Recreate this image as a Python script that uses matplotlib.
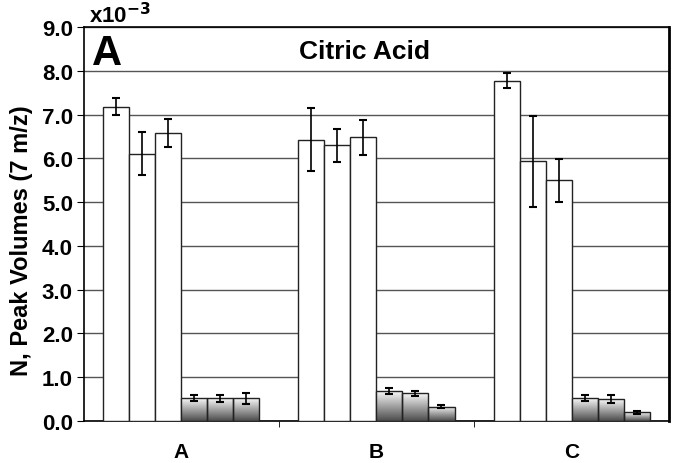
import numpy as np
import matplotlib.pyplot as plt

plt.rcParams['font.family'] = ['Liberation Sans', 'DejaVu Sans']
plt.rcParams['font.weight'] = 'bold'

groups = ['A', 'B', 'C']
# three white bars then three shaded bars per group (x10^-3)
white_vals = [[7.18, 6.11, 6.59], [6.43, 6.30, 6.48], [7.77, 5.93, 5.50]]
white_err = [[0.20, 0.50, 0.32], [0.72, 0.38, 0.40], [0.17, 1.04, 0.49]]
gray_vals = [[0.52, 0.52, 0.52], [0.68, 0.63, 0.33], [0.52, 0.50, 0.20]]
gray_err = [[0.07, 0.08, 0.13], [0.07, 0.06, 0.04], [0.07, 0.09, 0.03]]

fig = plt.figure(figsize=(6.74, 4.64), dpi=100)
ax = fig.add_axes([0.1246, 0.0905, 0.868, 0.849])

w = 1 / 7.5
x = np.arange(len(groups))
grad = np.linspace(0.97, 0.3, 64).reshape(-1, 1)

for i in range(3):
    xi = x - 2.5 * w + i * w
    ax.bar(xi, [v[i] for v in white_vals], w, color='white', edgecolor='#222222',
           linewidth=1.0, zorder=3)
    ax.errorbar(xi, [v[i] for v in white_vals], yerr=[e[i] for e in white_err],
                fmt='none', ecolor='black', elinewidth=1.2, capsize=3, capthick=1.5, zorder=4)

for i in range(3):
    xi = x + 0.5 * w + i * w
    bars = ax.bar(xi, [v[i] for v in gray_vals], w, color='none', edgecolor='#222222',
                  linewidth=1.0, zorder=3.5)
    for b in bars:
        ax.imshow(grad, cmap='gray', vmin=0, vmax=1, aspect='auto', zorder=3,
                  extent=[b.get_x(), b.get_x() + b.get_width(), 0, b.get_height()])
    ax.errorbar(xi, [v[i] for v in gray_vals], yerr=[e[i] for e in gray_err],
                fmt='none', ecolor='black', elinewidth=1.2, capsize=3, capthick=1.5, zorder=4)

ax.set_xlim(-0.5, 2.5)
ax.set_ylim(0, 9.0)
ax.set_yticks(np.arange(0, 9.5, 1.0))
ax.set_yticklabels(['%.1f' % v for v in np.arange(0, 9.5, 1.0)], fontsize=16, fontweight='bold')
ax.yaxis.grid(True, color='#555555', linewidth=1.0, zorder=0)
ax.set_axisbelow(True)
ax.set_xticks(x)
ax.set_xticklabels(groups, fontsize=15, fontweight='bold')
ax.tick_params(axis='x', length=0, pad=15)
ax.set_xticks([0.5, 1.5], minor=True)
ax.tick_params(axis='x', which='minor', length=4, direction='out')
ax.tick_params(axis='y', length=5, direction='out', pad=3)

for s in ['left', 'bottom', 'top']:
    ax.spines[s].set_linewidth(1.2)
ax.spines['right'].set_linewidth(2.0)

ax.set_ylabel('N, Peak Volumes (7 m/z)', fontsize=17, fontweight='bold')
ax.yaxis.set_label_coords(-0.087, 0.46)
ax.text(0.48, 0.9206, 'Citric Acid', transform=ax.transAxes, ha='center', va='baseline',
        fontsize=19, fontweight='bold')
ax.text(0.013, 0.906, 'A', transform=ax.transAxes, ha='left', va='baseline',
        fontsize=30, fontweight='bold')
ax.text(0.008, 1.0127, r'x10$^{\mathbf{-3}}$', transform=ax.transAxes, ha='left', va='baseline',
        fontsize=16, fontweight='bold')

fig.savefig('out.png', dpi=100)
